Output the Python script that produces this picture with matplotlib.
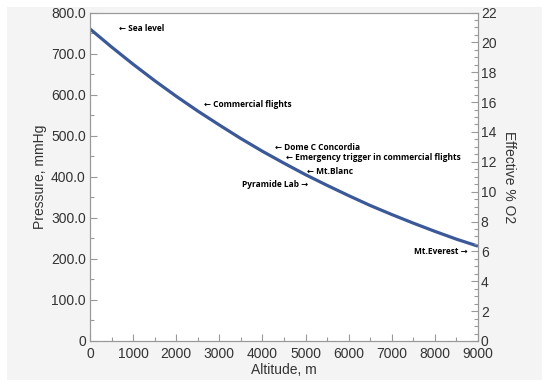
import matplotlib
matplotlib.use("Agg")
import matplotlib.pyplot as plt
from matplotlib.patches import Rectangle
from matplotlib.ticker import MultipleLocator

altitude = [0, 500, 1000, 1500, 2000, 2500, 3000, 3500, 4000, 4500,
            5000, 5500, 6000, 6500, 7000, 7500, 8000, 8500, 9000]
pressure = [760, 716, 674, 634, 596, 560, 526, 493, 462, 433,
            405, 379, 354, 330, 308, 287, 267, 248, 231]

labels = ["\u2190 Sea level", "\u2190 Commercial flights", "\u2190 Dome C Concordia",
          "\u2190 Emergency trigger in commercial flights", "\u2190 Mt.Blanc",
          "Pyramide Lab \u2192", "Mt.Everest \u2192"]
label_x = [670, 2640, 4290, 4550, 5030, 5060, 8750]
label_y = [760, 575, 472, 448, 414, 380, 217]
label_ha = ["left", "left", "left", "left", "left", "right", "right"]

plt.rcParams["font.family"] = ["Liberation Sans", "DejaVu Sans"]

fig = plt.figure(figsize=(5.5, 3.88), dpi=100)
fig.patch.set_facecolor("white")
fig.patches.append(Rectangle((7/550, 1-380/388), (542-7)/550, (380-7)/388,
                             transform=fig.transFigure, facecolor="#f4f4f4",
                             edgecolor="none", zorder=-10))

ax = fig.add_axes([90/550, 1-341/388, 388/550, (341-12.5)/388])
ax.set_facecolor("white")
ax.plot(altitude, pressure, color="#3b5998", lw=2.3, solid_capstyle="butt")
ax.set_xlim(0, 9000)

tc = "#333333"
fs = 10
for sp in ax.spines.values():
    sp.set_color("#999999")
    sp.set_linewidth(0.8)

ax.xaxis.set_major_locator(MultipleLocator(1000))
ax.xaxis.set_minor_locator(MultipleLocator(500))
yt = [0, 100, 200, 300, 400, 500, 600, 700, 800]
ax.set_yticks(yt)
ax.set_yticklabels(["0" if v == 0 else "%.1f" % v for v in yt])
ax.yaxis.set_minor_locator(MultipleLocator(50))
ax.set_ylim(0, 800)
ax.tick_params(which="both", direction="in", color="#999999", labelcolor=tc, labelsize=fs)
ax.tick_params(which="major", length=5, width=0.8)
ax.tick_params(which="minor", length=3, width=0.8)
ax.tick_params(axis="y", pad=3)
ax.tick_params(axis="x", pad=4)

ax2 = ax.twinx()
ax2.set_ylim(0, 22)
ax2.yaxis.set_major_locator(MultipleLocator(2))
ax2.yaxis.set_minor_locator(MultipleLocator(0.5))
ax2.tick_params(which="both", direction="in", color="#999999", labelcolor=tc, labelsize=fs, pad=2)
ax2.tick_params(which="major", length=5, width=0.8)
ax2.tick_params(which="minor", length=3, width=0.8)
for sp in ax2.spines.values():
    sp.set_color("#999999")
    sp.set_linewidth(0.8)

ax.set_xlabel("Altitude, m", color=tc, fontsize=fs, labelpad=2)
ax.set_ylabel("Pressure, mmHg", color=tc, fontsize=fs, labelpad=3)
ax2.set_ylabel("Effective % O2", color=tc, fontsize=fs, rotation=-90, labelpad=14)

for t, x, y, ha in zip(labels, label_x, label_y, label_ha):
    ax.text(x, y, t, ha=ha, va="center", fontsize=6, fontweight="bold",
            family=["Open Sans", "DejaVu Sans"], color="black")

fig.savefig("out.png", dpi=100, facecolor=fig.get_facecolor())
